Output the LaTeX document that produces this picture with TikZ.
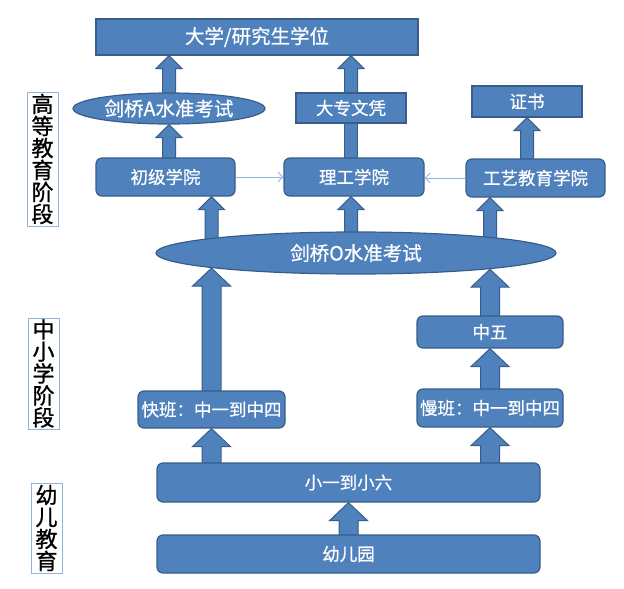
\documentclass[tikz,border=0pt]{standalone}
\usepackage{fontspec}
\setmainfont{Noto Sans CJK SC}[FakeBold=0.6]
\newfontfamily\boxfont{Noto Sans CJK SC}[FakeBold=0.6]
\newfontfamily\phasefont{Noto Sans CJK SC}[FakeBold=1]
\usepackage{tikz}
\usetikzlibrary{shapes}
\usetikzlibrary{arrows.meta}
\usetikzlibrary{calc}
\usetikzlibrary{backgrounds}
\definecolor{boxfill}{HTML}{4F81BD}
\definecolor{boxline}{HTML}{385D8A}
\definecolor{phaseline}{HTML}{95B3D7}
\definecolor{linkblue}{HTML}{8EB4E3}
\tikzstyle{degree}=[rectangle,draw=boxline,fill=boxfill,line width=1.2pt,text=white,inner sep=0mm,font=\boxfont\fontsize{19.5}{22}\selectfont]
\tikzstyle{award}=[degree,font=\boxfont\fontsize{17.5}{20}\selectfont]
\tikzstyle{stage}=[award,rounded corners=6pt]
\tikzstyle{exam}=[degree,ellipse]
\tikzstyle{phase}=[rectangle,draw=phaseline,line width=0.8pt,inner sep=0mm,align=center,minimum width=31pt,font=\phasefont\fontsize{22}{22}\selectfont]
\tikzstyle{link}=[-{Straight Barb[length=5pt,width=10pt]},draw=linkblue,line width=0.9pt]
\tikzstyle{block}=[draw=boxline,fill=boxfill,line width=1pt]
% block arrows, from #1 (x and foot) up to the tip #2
\newcommand{\smallup}[2]{%
  \draw[block] let \p1=#1, \p2=#2 in
    (\x1-6.5pt,\y1) -- (\x1-6.5pt,\y2-13pt) -- (\x1-13pt,\y2-13pt) -- (\x1,\y2)
    -- (\x1+13pt,\y2-13pt) -- (\x1+6.5pt,\y2-13pt) -- (\x1+6.5pt,\y1) -- cycle;}
\newcommand{\bigup}[2]{%
  \draw[block] let \p1=#1, \p2=#2 in
    (\x1-9.5pt,\y1) -- (\x1-9.5pt,\y2-18pt) -- (\x1-19pt,\y2-18pt) -- (\x1,\y2)
    -- (\x1+19pt,\y2-18pt) -- (\x1+9.5pt,\y2-18pt) -- (\x1+9.5pt,\y1) -- cycle;}

\begin{document}
\begin{tikzpicture}[x=1pt,y=-1pt]
      \useasboundingbox (0,0) rectangle (624,589);
      % higher education
      \node[degree,minimum width=322pt,minimum height=36pt] at (257,37) (degree) {大学/研究生学位};
      \node[exam,minimum width=192pt,minimum height=31pt] at (169,108.5) (alevel) {剑桥A水准考试};
      \node[award,minimum width=110pt,minimum height=30pt] at (351,108) (diploma) {大专文凭};
      \node[award,minimum width=110pt,minimum height=31pt] at (527,101.5) (cert) {证书};
      \node[stage,minimum width=139pt,minimum height=38pt] at (165.5,177) (junior) {初级学院};
      \node[stage,minimum width=140pt,minimum height=38pt] at (354,177) (poly) {理工学院};
      \node[stage,minimum width=139pt,minimum height=38pt] at (535.5,178) (tech) {工艺教育学院};
      % secondary
      \node[exam,minimum width=400pt,minimum height=42pt] at (356,253) (olevel) {剑桥O水准考试};
      \node[stage,minimum width=146pt,minimum height=32pt] at (490,332) (sec5) {中五};
      \node[stage,minimum width=147pt,minimum height=37pt] at (211.5,409.5) (express) {快班：中一到中四};
      \node[stage,minimum width=146pt,minimum height=38pt] at (490,408) (normal) {慢班：中一到中四};
      % primary and kindergarten
      \node[stage,minimum width=383pt,minimum height=39pt] at (348.5,482.5) (primary) {小一到小六};
      \node[stage,minimum width=383pt,minimum height=38pt] at (348.5,554) (kinder) {幼儿园};
      % phases
      \node[phase,minimum height=134pt] at (42.5,159) (higher) {高\\等\\教\\育\\阶\\段};
      \node[phase,minimum height=111pt] at (43.5,373.5) (school) {中\\小\\学\\阶\\段};
      \node[phase,minimum height=90pt] at (46.5,528) (early) {幼\\儿\\教\\育};
      \draw[link] (junior.east) -- (poly.west);
      \draw[link] (tech.west) -- (tech.west -| poly.east);
      \begin{scope}[on background layer]
        \smallup{(alevel.center)}{(degree.south -| alevel)}
        \smallup{(diploma.center)}{(degree.south -| diploma)}
        \smallup{(alevel |- junior)}{(alevel.south)}
        \draw[block] let \p1=(diploma.center), \p2=(diploma |- poly) in (\x1-6.5pt,\y1) rectangle (\x1+6.5pt,\y2);
        \smallup{(cert |- tech)}{(cert.south)}
        \smallup{(express |- olevel)}{(express |- junior.south)}
        \smallup{(diploma |- olevel)}{(diploma |- poly.south)}
        \smallup{(sec5 |- olevel)}{(sec5 |- tech.south)}
        \bigup{(express.center)}{(express |- olevel.186)}
        \bigup{(sec5.center)}{(sec5 |- olevel.-7)}
        \bigup{(normal.center)}{(sec5.south)}
        \bigup{(express |- primary)}{(express.south)}
        \bigup{(normal |- primary)}{(normal.south)}
        \bigup{(kinder.center)}{(primary.south)}
      \end{scope}
    \end{tikzpicture}
\end{document}
